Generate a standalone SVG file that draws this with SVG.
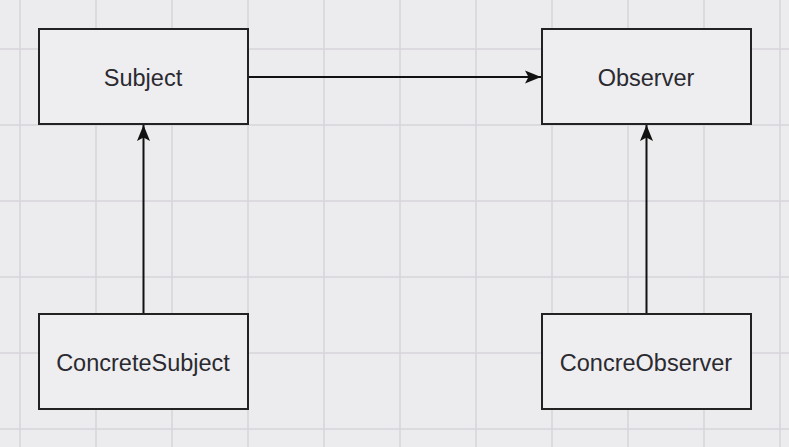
<svg xmlns="http://www.w3.org/2000/svg" width="789" height="447" viewBox="0 0 789 447">
<defs>
<style>
.bg{fill:#ecebed}
.grid line{stroke:#d7d5d9;stroke-width:1.5}
.box{fill:#eeedef;stroke:#222;stroke-width:2}
.lbl{font-family:"Liberation Sans",Arial,sans-serif;font-size:23.5px;fill:#2a2a30;text-anchor:middle}
.edge{stroke:#111;stroke-width:2;fill:none}
</style>
<marker id="arr" viewBox="0 0 16 14" refX="16" refY="7" markerWidth="16" markerHeight="14" markerUnits="userSpaceOnUse" orient="auto">
<path d="M16,7 L0,0.5 L3.5,7 L0,13.5 Z" fill="#111"/>
</marker>
</defs>
<rect class="bg" x="0" y="0" width="789" height="447"/>
<g class="grid">
<line x1="20" y1="0" x2="20" y2="447"/>
<line x1="96" y1="0" x2="96" y2="447"/>
<line x1="172" y1="0" x2="172" y2="447"/>
<line x1="248" y1="0" x2="248" y2="447"/>
<line x1="324" y1="0" x2="324" y2="447"/>
<line x1="400" y1="0" x2="400" y2="447"/>
<line x1="476" y1="0" x2="476" y2="447"/>
<line x1="552" y1="0" x2="552" y2="447"/>
<line x1="628" y1="0" x2="628" y2="447"/>
<line x1="704" y1="0" x2="704" y2="447"/>
<line x1="780" y1="0" x2="780" y2="447"/>
<line x1="0" y1="49" x2="789" y2="49"/>
<line x1="0" y1="125" x2="789" y2="125"/>
<line x1="0" y1="201" x2="789" y2="201"/>
<line x1="0" y1="277" x2="789" y2="277"/>
<line x1="0" y1="353" x2="789" y2="353"/>
<line x1="0" y1="429" x2="789" y2="429"/>
</g>
<g id="connectors">
<line class="edge" x1="248" y1="77" x2="541" y2="77" marker-end="url(#arr)"/>
<line class="edge" x1="143.5" y1="314" x2="143.5" y2="125" marker-end="url(#arr)"/>
<line class="edge" x1="646.5" y1="314" x2="646.5" y2="125" marker-end="url(#arr)"/>
</g>
<g id="subject">
<rect class="box" x="39" y="29" width="209" height="95"/>
<text class="lbl" x="143" y="86">Subject</text>
</g>
<g id="observer">
<rect class="box" x="542" y="29" width="209" height="95"/>
<text class="lbl" x="646" y="86">Observer</text>
</g>
<g id="concreteSubject">
<rect class="box" x="39" y="314" width="209" height="95"/>
<text class="lbl" x="143" y="371">ConcreteSubject</text>
</g>
<g id="concreObserver">
<rect class="box" x="542" y="314" width="209" height="95"/>
<text class="lbl" x="646" y="371">ConcreObserver</text>
</g>
</svg>
